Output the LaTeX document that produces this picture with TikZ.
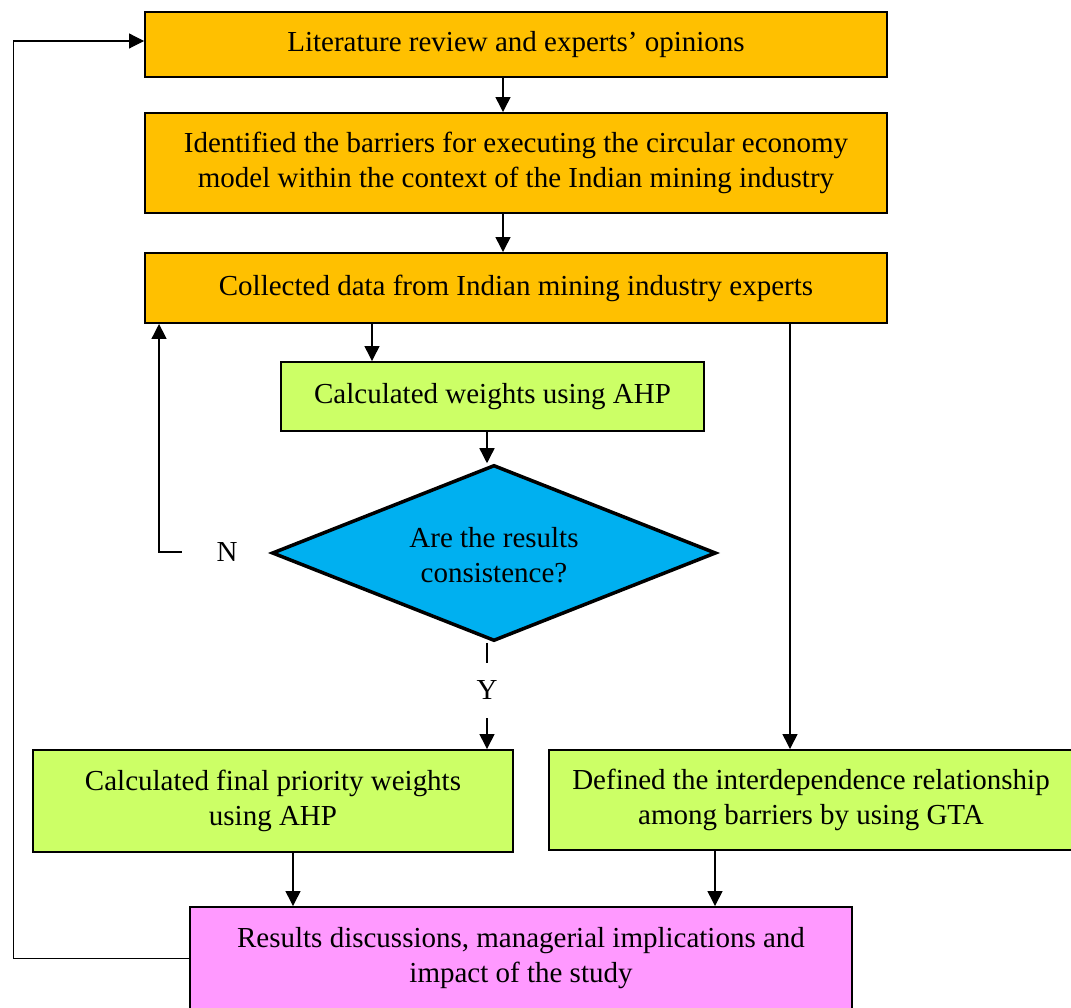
\documentclass[tikz,border=0pt]{standalone}
\usepackage{xcolor}
\usepackage{fontspec}
\setmainfont{Liberation Serif}
\usepackage{tikz}
\usetikzlibrary{positioning}
\usetikzlibrary{shapes.geometric,arrows.meta}

\definecolor{boxorange}{HTML}{FFC000}
\definecolor{boxgreen}{HTML}{CCFF66}
\definecolor{boxblue}{HTML}{00B0F0}
\definecolor{boxpink}{HTML}{FF99FF}

\begin{document}
\begin{tikzpicture}
                [font=\fontsize{16.5}{19.9}\selectfont,
                 box/.style = {draw, line width=1.1pt, align=center, inner sep=0pt},
                 ora/.style = {box, fill=boxorange, minimum width=14.84cm},
                 gre/.style = {box, fill=boxgreen},
                 dia/.style = {diamond, draw, line width=2pt, fill=boxblue, align=center, inner sep=0pt, aspect=2.52, minimum width=8.88cm, minimum height=3.52cm},
                 lab/.style = {inner sep=0pt},
                 arr/.style = {-{Triangle[length=0.3cm,width=0.3cm]}, line width=0.8pt}]
                \useasboundingbox (0,0) rectangle (21.42,-20.16);
                % Steps of the study
                \node[ora, minimum height=1.3cm] (lit) at (10.32,-0.89) {Literature review and experts' opinions};
                \node[ora, minimum height=2cm] (ident) at (10.32,-3.26) {Identified the barriers for executing the circular economy\\model within the context of the Indian mining industry};
                \node[ora, minimum height=1.4cm] (collect) at (10.32,-5.76) {Collected data from Indian mining industry experts};
                \node[gre, minimum width=8.46cm, minimum height=1.38cm] (ahp) at (9.85,-7.93) {Calculated weights using AHP};
                \node[dia] (cons) at (9.88,-11.06) {\\[-0.2cm]Are the results\\consistence?};
                \node[gre, minimum width=9.6cm, minimum height=2.04cm] (final) at (5.46,-16.02) {Calculated final priority weights\\using AHP};
                \node[gre, minimum width=10.48cm, minimum height=2cm] (gta) at (16.22,-16) {Defined the interdependence relationship\\among barriers by using GTA};
                \node[box, fill=boxpink, minimum width=13.24cm, minimum height=2.06cm] (res) at (10.42,-19.17) {Results discussions, managerial implications and\\impact of the study};
                % Labels of the decision
                \node[lab, minimum width=1.8cm] (N) at (4.54,-11.04) {N};
                \node[lab, minimum height=1.1cm] (Y) at (9.74,-13.81) {Y};
                % Lines
                \draw[arr] ([xshift=-0.26cm]lit.south) -- ([xshift=-0.26cm]ident.north);
                \draw[arr] ([xshift=-0.26cm]ident.south) -- ([xshift=-0.26cm]collect.north);
                \draw[arr] ([xshift=-2.41cm]ahp.north |- collect.south) -- ([xshift=-2.41cm]ahp.north);
                \draw[arr] ([xshift=-0.11cm]ahp.south) -- ([xshift=-0.11cm]ahp.south |- cons.north);
                \draw[line width=0.8pt] (Y.north |- cons.south) -- (Y.north);
                \draw[arr] (Y.south) -- (Y.south |- final.north);
                \draw[arr] (N.west) -| ([xshift=0.3cm]collect.south west);
                \draw[arr] ([xshift=-0.42cm]gta.north |- collect.south) -- ([xshift=-0.42cm]gta.north);
                \draw[arr] ([xshift=0.4cm]final.south) -- ([xshift=0.4cm]final.south |- res.north);
                \draw[arr] ([xshift=-1.92cm]gta.south) -- ([xshift=-1.92cm]gta.south |- res.north);
                \draw[arr, line width=0.6pt] (res.west) -- ++(-3.52,0) |- ([yshift=0.07cm]lit.west);
            \end{tikzpicture}
\end{document}
